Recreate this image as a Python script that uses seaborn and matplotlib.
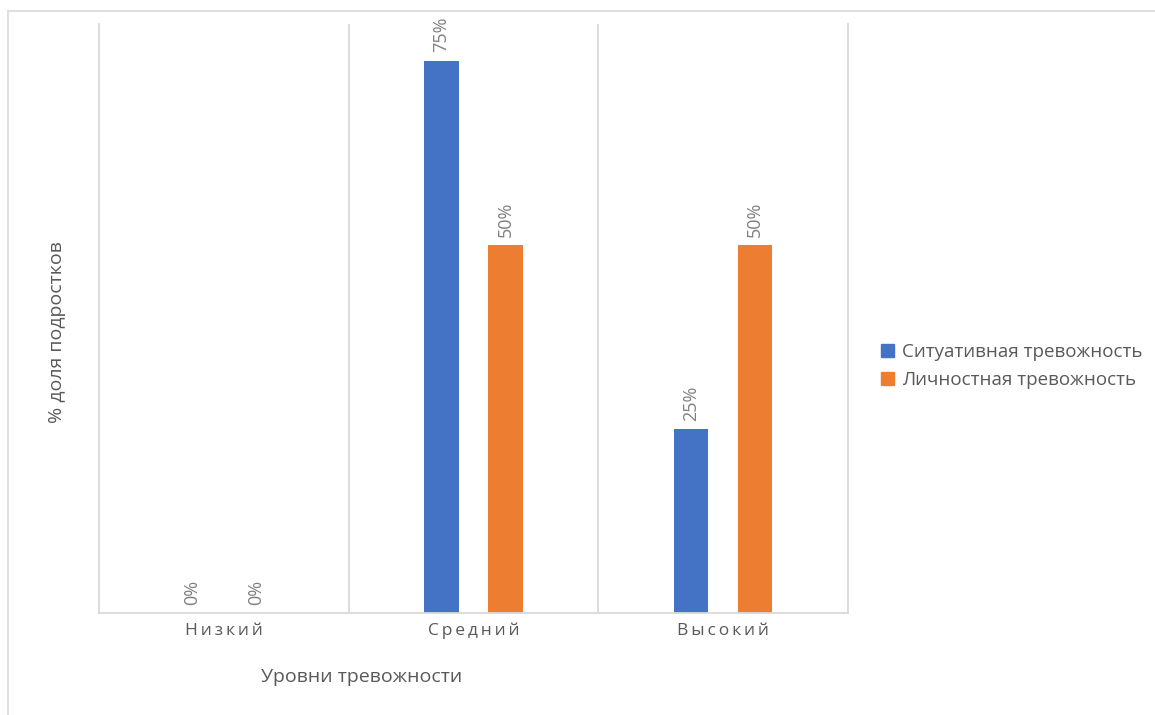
import matplotlib
matplotlib.use("Agg")
import matplotlib.pyplot as plt
from matplotlib.lines import Line2D
import seaborn as sns
import pandas as pd

# Anxiety levels and the share of teenagers in each
levels = ["Низкий", "Средний", "Высокий"]
series = ["Ситуативная тревожность", "Личностная тревожность"]
situational = [0.00, 0.75, 0.25]
personal = [0.00, 0.50, 0.50]

df = pd.DataFrame({
    "level": levels * 2,
    "series": [series[0]] * 3 + [series[1]] * 3,
    "share": situational + personal,
})

sns.set_theme(style="white")
plt.rcParams["font.family"] = ["Open Sans", "DejaVu Sans"]

grid_c = "#d9d9d9"
text_c = "#595959"
label_c = "#7f7f7f"
palette = {series[0]: "#4472C4", series[1]: "#ED7D31"}

fig = plt.figure(figsize=(11.55, 7.15), dpi=100)
ax = fig.add_axes([99 / 1155, 1 - 613 / 715, (848 - 99) / 1155, (613 - 24) / 715])

sns.barplot(data=df, x="level", y="share", hue="series", order=levels,
            hue_order=series, palette=palette, width=0.512, gap=0.465,
            saturation=1, linewidth=0, ax=ax, legend=False)

for cont in ax.containers:
    ax.bar_label(cont, labels=[f"{v:.0%}" for v in cont.datavalues],
                 rotation=90, padding=6, color=label_c, fontsize=13)

ax.set_xlim(-0.5, 2.5)
ax.set_ylim(0, 0.80)
ax.set_yticks([])
ax.set_xlabel("")
ax.set_ylabel("")

# category separators and frame lines
for xv in [0.5, 1.5]:
    ax.axvline(xv, color=grid_c, lw=1.3, zorder=0)
for side in ["left", "right", "bottom"]:
    ax.spines[side].set_color(grid_c)
    ax.spines[side].set_linewidth(1.3)
ax.spines["top"].set_visible(False)

spaced = ["\u2009".join(lv) for lv in levels]
ax.set_xticks(range(len(levels)))
ax.set_xticklabels(spaced, fontsize=12.5, color=text_c)
ax.tick_params(axis="x", length=0, pad=7)

fig.text(362 / 1155, 1 - 677 / 715, "Уровни тревожности", ha="center",
         va="center", fontsize=14, color=text_c)
fig.text(57 / 1155, 1 - 332 / 715, "% доля подростков", ha="center",
         va="center", rotation=90, fontsize=14, color=text_c)

handles = [plt.Rectangle((0, 0), 1, 1, color=palette[s]) for s in series]
fig.legend(handles, series, loc="center left",
           bbox_to_anchor=(864 / 1155, 1 - 366 / 715), frameon=False,
           fontsize=13.5, labelcolor=text_c, handlelength=0.7,
           handleheight=0.7, handletextpad=0.45, labelspacing=0.55)

# outer chart frame (top and left edges)
fig.add_artist(Line2D([8 / 1155, 1.0], [1 - 10.5 / 715] * 2, color=grid_c,
                      lw=1.2, transform=fig.transFigure))
fig.add_artist(Line2D([8 / 1155] * 2, [0.0, 1 - 10.5 / 715], color=grid_c,
                      lw=1.2, transform=fig.transFigure))

fig.savefig("out.png", dpi=100, facecolor="white")
